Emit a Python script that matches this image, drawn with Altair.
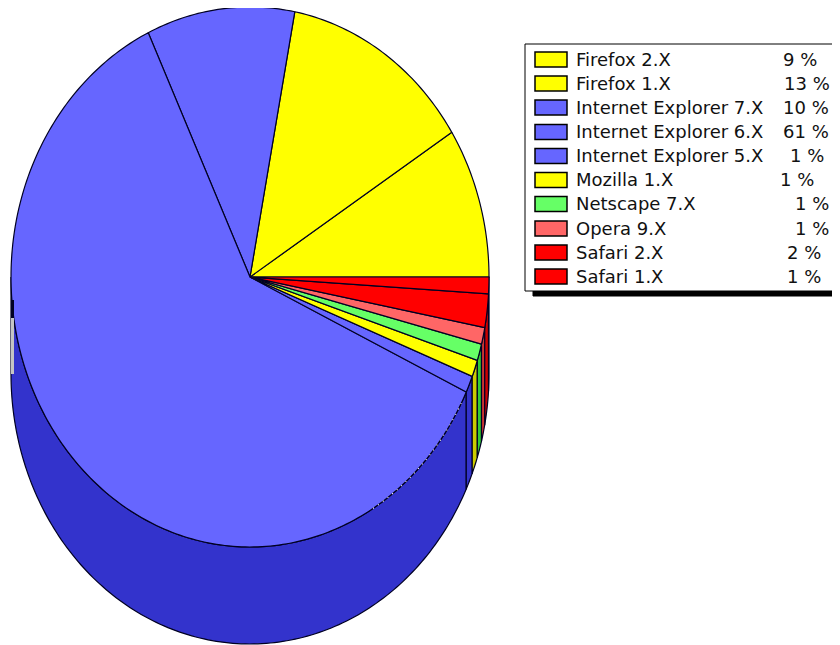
import math
import altair as alt
import pandas as pd

# Chart values
labels = ["Firefox 2.X", "Firefox 1.X", "Internet Explorer 7.X", "Internet Explorer 6.X",
          "Internet Explorer 5.X", "Mozilla 1.X", "Netscape 7.X", "Opera 9.X", "Safari 2.X", "Safari 1.X"]
percents = [9, 13, 10, 61, 1, 1, 1, 1, 2, 1]
top_colors = ["#FFFF00", "#FFFF00", "#6666FF", "#6666FF", "#6666FF",
              "#FFFF00", "#66FF66", "#FF6666", "#FF0000", "#FF0000"]
rim_colors = ["#CCCC00", "#CCCC00", "#3333CC", "#3333CC", "#3333CC",
              "#CCCC00", "#33CC33", "#CC3333", "#CC0000", "#CC0000"]
# left edge of each percent label in the legend
pct_left = [783, 784, 783, 783, 790, 780, 795, 795, 787, 787]
row_y = [59.5, 83.5, 107.5, 132, 156, 180, 204, 228.5, 252.5, 276.5]

CX, CY, RX, RY, DEPTH = 250, 277, 239, 270, 97

def pt(deg, drop=0):
    r = math.radians(deg)
    return CX + RX * math.cos(r), CY - RY * math.sin(r) + drop

top_rows, rim_rows = [], []
acc = 0.0
for i, p in enumerate(percents):
    a0, a1 = acc * 3.6, (acc + p) * 3.6
    acc += p
    n = max(2, int((a1 - a0)) + 2)
    arc = [a0 + (a1 - a0) * k / (n - 1) for k in range(n)]
    poly = [(CX, CY)] + [pt(a) for a in arc] + [(CX, CY)]
    for j, (x, y) in enumerate(poly):
        top_rows.append(dict(s=f"{i:02d}", i=j, x=x, y=y, fill=top_colors[i]))
    lo, hi = max(a0, 180), min(a1, 360)
    if hi > lo:
        m = max(2, int(hi - lo) + 2)
        rim_arc = [lo + (hi - lo) * k / (m - 1) for k in range(m)]
        poly = [pt(a) for a in rim_arc] + [pt(a, DEPTH) for a in reversed(rim_arc)] + [pt(lo)]
        for j, (x, y) in enumerate(poly):
            rim_rows.append(dict(s=f"{i:02d}", i=j, x=x, y=y, fill=rim_colors[i]))

xs = alt.Scale(domain=[8, 832], range=[0, 824], nice=False, zero=False)
ys = alt.Scale(domain=[8, 645], range=[0, 637], nice=False, zero=False)
X = lambda f: alt.X(f, type="quantitative", scale=xs, axis=None)
Y = lambda f: alt.Y(f, type="quantitative", scale=ys, axis=None)

def wedges(rows):
    return alt.Chart(pd.DataFrame(rows)).mark_line(
        stroke="#000022", strokeWidth=1.2, strokeJoin="round", clip=True
    ).encode(x=X("x"), y=Y("y"), detail="s:N", order="i:Q",
             fill=alt.Fill("fill:N", scale=None))

# the white dotted flaw along the lower right edge of the top face
flaw = pd.DataFrame([dict(zip("xy", pt(a)), i=a) for a in range(301, 334)])
flaw_layer = alt.Chart(flaw).mark_line(
    stroke="#FFFFFF", strokeWidth=1.2, strokeDash=[1, 5]
).encode(x=X("x"), y=Y("y"), order="i:Q")

# the grey and black sliver on the left edge
sliver = pd.DataFrame([dict(x=11, x2=14, y=300, y2=318, c="#000022"),
                       dict(x=11, x2=14, y=318, y2=374, c="#C4C4C4")])
sliver_layer = alt.Chart(sliver).mark_rect().encode(
    x=X("x"), x2="x2:Q", y=Y("y"), y2="y2:Q", fill=alt.Fill("c:N", scale=None))

box = pd.DataFrame([dict(x=533, x2=840, y=285, y2=296, c="#000000"),
                    dict(x=525, x2=840, y=44, y2=291, c="#FFFFFF")])
box_layer = alt.Chart(box).mark_rect(stroke="#000000", strokeWidth=1, clip=True).encode(
    x=X("x"), x2="x2:Q", y=Y("y"), y2="y2:Q", fill=alt.Fill("c:N", scale=None))

leg = pd.DataFrame(dict(label=labels, pct=[f"{p} %" for p in percents], fill=top_colors,
                        y=row_y, pct_x=pct_left))
leg["x0"], leg["x1"] = 535, 567
leg["y0"], leg["y1"] = leg["y"] - 7.5, leg["y"] + 7.5
leg["tx"] = 576
swatch = alt.Chart(leg).mark_rect(stroke="#000000", strokeWidth=1.5).encode(
    x=X("x0"), x2="x1:Q", y=Y("y0"), y2="y1:Q", fill=alt.Fill("fill:N", scale=None))
font = dict(font="DejaVu Sans", fontSize=18, align="left", baseline="middle", color="#111111", dy=1)
names = alt.Chart(leg).mark_text(**font).encode(x=X("tx"), y=Y("y"), text="label:N")
pcts = alt.Chart(leg).mark_text(**font).encode(x=X("pct_x"), y=Y("y"), text="pct:N")

chart = alt.layer(
    wedges(rim_rows), wedges(top_rows), flaw_layer, sliver_layer, box_layer, swatch, names, pcts
).properties(
    width=824, height=637, padding=0, autosize=alt.AutoSizeParams(type="none")
).configure_view(stroke=None)

chart.save("out.html", embed_options={"renderer": "svg", "actions": False})
